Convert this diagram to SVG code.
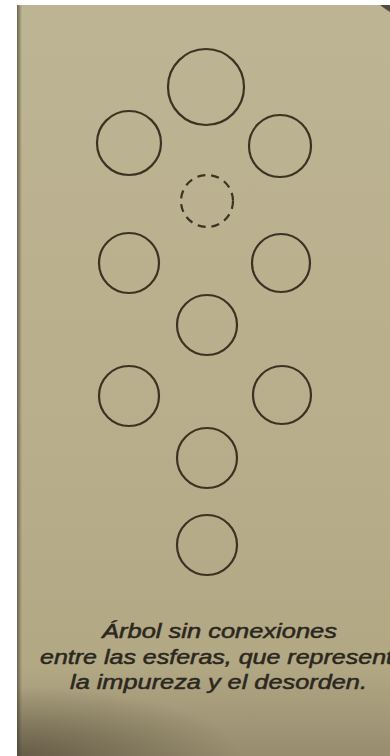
<svg xmlns="http://www.w3.org/2000/svg" width="390" height="756" viewBox="0 0 390 756">
  <defs>
    <linearGradient id="page" x1="0" y1="0" x2="0" y2="1">
      <stop offset="0" stop-color="#bdb493"/>
      <stop offset="0.5" stop-color="#b9af8d"/>
      <stop offset="0.88" stop-color="#b2a884"/>
      <stop offset="1" stop-color="#978c6e"/>
    </linearGradient>
    <radialGradient id="shade" cx="0" cy="1" r="0.6" gradientUnits="objectBoundingBox">
      <stop offset="0" stop-color="#3e3628" stop-opacity="0.55"/>
      <stop offset="1" stop-color="#3e3628" stop-opacity="0"/>
    </radialGradient>
    <linearGradient id="edge" x1="0" y1="0" x2="1" y2="0">
      <stop offset="0" stop-color="#4a4230" stop-opacity="0.7"/>
      <stop offset="1" stop-color="#4a4230" stop-opacity="0"/>
    </linearGradient>
  </defs>
  <style>
    .sphere { fill: none; stroke: #3b3222; stroke-width: 2.2; }
    .dashed { stroke-dasharray: 8 6; }
    .cap { font-family: "Liberation Sans", Arial, sans-serif; font-style: italic; font-size: 20px; fill: #2b271f; stroke: #2b271f; stroke-width: 0.5; }
  </style>
  <rect x="0" y="0" width="390" height="756" fill="#ffffff"/>
  <rect x="17" y="5" width="373" height="751" fill="url(#page)"/>
  <rect x="17" y="640" width="373" height="116" fill="url(#shade)"/>
  <rect x="17" y="5" width="5" height="751" fill="url(#edge)"/>
  <path d="M380 5 L390 5 L390 12 Q385 9 380 5 Z" fill="#3a3328" opacity="0.8"/>

  <g id="sphere-1"><circle class="sphere" cx="206" cy="87" r="38"/></g>
  <g id="sphere-2"><circle class="sphere" cx="129" cy="143" r="32"/></g>
  <g id="sphere-3"><circle class="sphere" cx="280" cy="146" r="31"/></g>
  <g id="sphere-daat"><circle class="sphere dashed" cx="207" cy="201" r="26"/></g>
  <g id="sphere-4"><circle class="sphere" cx="129" cy="263" r="30"/></g>
  <g id="sphere-5"><circle class="sphere" cx="281" cy="263" r="29"/></g>
  <g id="sphere-6"><circle class="sphere" cx="207" cy="325" r="30"/></g>
  <g id="sphere-7"><circle class="sphere" cx="129" cy="396" r="30"/></g>
  <g id="sphere-8"><circle class="sphere" cx="282" cy="395" r="29"/></g>
  <g id="sphere-9"><circle class="sphere" cx="207" cy="458" r="30"/></g>
  <g id="sphere-10"><circle class="sphere" cx="207" cy="545" r="30"/></g>

  <g id="caption">
    <text class="cap" x="102" y="638" textLength="235" lengthAdjust="spacingAndGlyphs">Árbol sin conexiones</text>
    <text class="cap" x="40" y="664" textLength="353" lengthAdjust="spacingAndGlyphs">entre las esferas, que represent</text>
    <text class="cap" x="70" y="689" textLength="297" lengthAdjust="spacingAndGlyphs">la impureza y el desorden.</text>
  </g>
</svg>
